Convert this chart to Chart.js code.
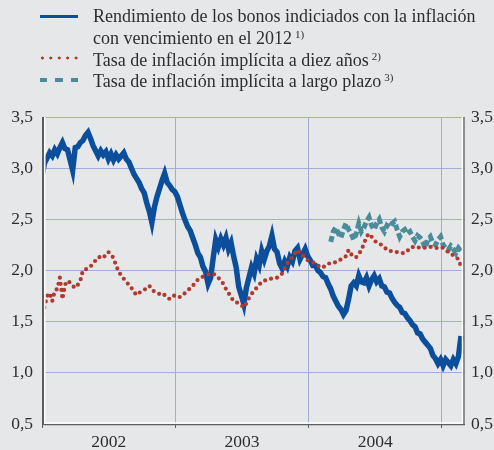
<!DOCTYPE html>
<html>
<head>
<meta charset="utf-8">
<script src="https://cdn.jsdelivr.net/npm/chart.js@4/dist/chart.umd.min.js"></script>
<style>
  html, body { margin:0; padding:0; background:#e6e7e9; }
  body { width:494px; height:450px; position:relative; overflow:hidden; font-family:"Liberation Serif", "DejaVu Serif", serif; color:#2e2e2e; }
  #c { position:absolute; left:0; top:0; }
  .lt { position:absolute; left:93px; height:22px; line-height:22px; font-size:18px; white-space:nowrap; }
  .lt sup { font-size:11px; vertical-align:0; position:relative; top:-6px; margin-left:3px; }
  .sw { position:absolute; left:40px; width:38px; }
</style>
</head>
<body>
<canvas id="c" width="494" height="450"></canvas>
<div class="sw" style="top:14.5px;height:3px;background:#0b4f9c;"></div>
<div class="lt" style="top:5px;">Rendimiento de los bonos indiciados con la inflación</div>
<div class="lt" style="top:27px;">con vencimiento en el 2012<sup>1)</sup></div>
<div class="sw" style="top:56px;height:4px;background:radial-gradient(circle at 2.2px 2px, #b03a2e 1.4px, rgba(0,0,0,0) 1.7px);background-size:8.45px 4px;background-repeat:repeat-x;"></div>
<div class="lt" style="top:49px;">Tasa de inflación implícita a diez años<sup>2)</sup></div>
<div class="sw" style="top:77.5px;height:4px;background:repeating-linear-gradient(to right, #4b8c9b 0 7px, rgba(0,0,0,0) 7px 15.5px);"></div>
<div class="lt" style="top:70px;">Tasa de inflación implícita a largo plazo<sup>3)</sup></div>
<script>
// ---- data (weekly observations, first week starting 2002-01-01) ----
const startYear = 2002;
const weekStep = 7 / 365.25;
const yearLabels = ['2002', '2003', '2004'];
const yTickValues = [0.5, 1.0, 1.5, 2.0, 2.5, 3.0, 3.5];
const yTickLabels = ['0,5', '1,0', '1,5', '2,0', '2,5', '3,0', '3,5'];

const bonoIndiciado2012 = [
  2.92,3.05,3.10,3.15,3.12,3.18,3.14,3.20,3.25,3.19,
  3.18,3.08,2.98,3.20,3.21,3.25,3.27,3.32,3.35,3.29,
  3.22,3.17,3.12,3.17,3.13,3.16,3.09,3.14,3.08,3.13,
  3.09,3.12,3.15,3.09,3.06,3.00,2.94,2.90,2.86,2.80,
  2.76,2.66,2.58,2.47,2.62,2.72,2.80,2.88,2.95,2.86,
  2.83,2.79,2.77,2.72,2.64,2.56,2.49,2.43,2.39,2.32,
  2.25,2.17,2.13,2.04,1.99,1.87,1.93,2.12,2.30,2.23,
  2.31,2.25,2.32,2.21,2.27,2.14,2.03,1.84,1.76,1.67,
  1.83,1.93,2.03,1.97,2.11,2.05,2.19,2.11,2.19,2.24,
  2.34,2.21,2.18,2.07,2.02,2.09,2.04,2.13,2.09,2.19,
  2.22,2.11,2.16,2.21,2.14,2.10,2.05,2.05,2.00,1.98,
  1.94,1.93,1.87,1.82,1.75,1.70,1.65,1.62,1.57,1.61,
  1.72,1.85,1.88,1.85,1.95,1.89,1.88,1.93,1.85,1.91,
  1.95,1.89,1.92,1.85,1.84,1.79,1.78,1.73,1.69,1.66,
  1.64,1.59,1.58,1.54,1.51,1.47,1.45,1.39,1.38,1.33,
  1.30,1.27,1.24,1.17,1.14,1.09,1.13,1.07,1.13,1.10,
  1.07,1.13,1.09,1.16,1.36
];

const inflacionDiezAnos = [
  1.52,1.65,1.75,1.78,1.70,1.80,1.82,1.93,1.72,1.86,
  1.90,1.88,1.85,1.83,1.86,1.90,2.00,2.01,2.02,2.04,
  2.07,2.10,2.13,2.13,2.12,2.16,2.18,2.16,2.12,2.05,
  1.99,1.95,1.92,1.89,1.86,1.83,1.79,1.76,1.78,1.80,
  1.81,1.83,1.85,1.82,1.79,1.78,1.77,1.78,1.76,1.74,
  1.72,1.74,1.76,1.75,1.74,1.76,1.78,1.80,1.83,1.85,
  1.88,1.91,1.93,1.94,1.95,1.96,1.97,1.97,1.95,1.93,
  1.90,1.87,1.82,1.78,1.74,1.70,1.69,1.68,1.66,1.64,
  1.68,1.73,1.77,1.80,1.83,1.86,1.89,1.90,1.91,1.92,
  1.92,1.93,1.93,1.95,1.97,2.02,2.07,2.10,2.13,2.17,
  2.20,2.16,2.15,2.12,2.10,2.09,2.08,2.07,2.05,2.03,
  2.03,2.05,2.06,2.08,2.08,2.08,2.09,2.11,2.12,2.14,
  2.20,2.16,2.13,2.13,2.16,2.20,2.26,2.33,2.36,2.33,
  2.30,2.27,2.26,2.25,2.23,2.20,2.19,2.19,2.18,2.18,
  2.18,2.17,2.17,2.19,2.22,2.23,2.22,2.22,2.23,2.23,
  2.22,2.23,2.23,2.23,2.22,2.22,2.23,2.22,2.20,2.18,
  2.16,2.15,2.13,2.11,2.04
];

// long-term implied inflation starts in week 113 (March 2004)
const largoPlazoStartWeek = 113;
const inflacionLargoPlazo = [
  2.28,2.38,2.42,2.36,2.32,2.40,2.46,2.40,2.36,2.30,
  2.36,2.46,2.38,2.42,2.48,2.52,2.44,2.40,2.46,2.50,
  2.42,2.38,2.44,2.42,2.46,2.48,2.40,2.33,2.38,2.40,
  2.36,2.38,2.33,2.29,2.34,2.32,2.28,2.22,2.30,2.33,
  2.27,2.25,2.30,2.33,2.25,2.22,2.20,2.24,2.21,2.17,
  2.22,2.19
];

const weekToYear = (i) => startYear + i * weekStep;
const toPoints = (arr, offset) => arr.map((v, i) => ({ x: weekToYear(i + offset), y: v }));

const FONT = { family: '"Liberation Serif", "DejaVu Serif", serif', size: 17.5 };
const GRID = '#a3acd7';
const TEXT = '#2e2e2e';

const framePlugin = {
  id: 'frame',
  afterDraw(chart) {
    const { ctx, chartArea: a } = chart;
    ctx.save();
    ctx.strokeStyle = '#ffffff';
    ctx.lineWidth = 1.5;
    ctx.beginPath();
    ctx.moveTo(44.8, a.top); ctx.lineTo(44.8, a.bottom - 1);
    ctx.moveTo(a.left, a.bottom - 1); ctx.lineTo(a.right - 2, a.bottom - 1);
    ctx.moveTo(a.right - 2.5, a.top); ctx.lineTo(a.right - 2.5, a.bottom - 1);
    ctx.stroke();
    ctx.strokeStyle = '#5e5e5e';
    ctx.lineWidth = 2;
    ctx.beginPath();
    ctx.moveTo(a.left + 1, a.top); ctx.lineTo(a.left + 1, a.bottom + 1);
    ctx.stroke();
    ctx.lineWidth = 1.3;
    ctx.beginPath();
    ctx.moveTo(a.left, a.bottom + 0.7); ctx.lineTo(a.right, a.bottom + 0.7);
    ctx.moveTo(a.right - 1, a.top); ctx.lineTo(a.right - 1, a.bottom + 1);
    ctx.stroke();
    ctx.restore();
  }
};

new Chart(document.getElementById('c'), {
  type: 'line',
  data: {
    datasets: [
      {
        label: 'Tasa de inflación implícita a diez años',
        data: toPoints(inflacionDiezAnos, 0),
        borderColor: '#b2392d',
        borderWidth: 4.2,
        borderDash: [0, 6.2],
        borderCapStyle: 'round',
        pointRadius: 0,
        tension: 0,
        order: 0
      },
      {
        label: 'Tasa de inflación implícita a largo plazo',
        data: toPoints(inflacionLargoPlazo, largoPlazoStartWeek),
        borderColor: '#4b8c9b',
        borderWidth: 5,
        borderDash: [6, 3],
        pointRadius: 0,
        tension: 0,
        order: 1
      },
      {
        label: 'Rendimiento de los bonos indiciados con la inflación con vencimiento en el 2012',
        data: toPoints(bonoIndiciado2012, 0),
        borderColor: '#0b4f9c',
        borderWidth: 5.5,
        borderJoinStyle: 'miter',
        pointRadius: 0,
        tension: 0,
        order: 2
      }
    ]
  },
  options: {
    responsive: false,
    devicePixelRatio: 1,
    animation: false,
    layout: { padding: { top: 117, left: 0, right: 0, bottom: 0 } },
    plugins: { legend: { display: false }, tooltip: { enabled: false } },
    scales: {
      x: {
        type: 'linear',
        min: startYear,
        max: 2005.173,
        afterFit(s) { s.height = 26; },
        afterBuildTicks(s) {
          s.ticks = [];
          yearLabels.forEach((lab, k) => {
            s.ticks.push({ value: startYear + k });
            s.ticks.push({ value: startYear + k + 0.5 });
          });
          s.ticks.push({ value: startYear + yearLabels.length });
        },
        border: { display: false },
        grid: {
          color: (c) => (c.tick && Number.isInteger(c.tick.value)) ? GRID : 'rgba(0,0,0,0)',
          tickColor: (c) => (c.tick && Number.isInteger(c.tick.value)) ? '#5e5e5e' : 'rgba(0,0,0,0)',
          tickLength: 4,
          lineWidth: 1
        },
        ticks: {
          autoSkip: false,
          maxRotation: 0,
          padding: 4,
          color: TEXT,
          font: FONT,
          callback: (v) => {
            if (Number.isInteger(v)) return '';
            return yearLabels[Math.floor(v) - startYear] || '';
          }
        }
      },
      y: {
        position: 'left',
        min: 0.5,
        max: 3.5,
        afterFit(s) { s.width = 42; },
        afterBuildTicks(s) { s.ticks = yTickValues.map(v => ({ value: v })); },
        border: { display: false },
        grid: { color: GRID, lineWidth: 1, drawTicks: false },
        ticks: {
          padding: 9,
          color: TEXT,
          font: FONT,
          callback: (v) => yTickLabels[yTickValues.indexOf(v)]
        }
      },
      y2: {
        position: 'right',
        min: 0.5,
        max: 3.5,
        afterFit(s) { s.width = 29; },
        afterBuildTicks(s) { s.ticks = yTickValues.map(v => ({ value: v })); },
        border: { display: false },
        grid: { display: false, drawTicks: false },
        ticks: {
          padding: 6,
          color: TEXT,
          font: FONT,
          callback: (v) => yTickLabels[yTickValues.indexOf(v)]
        }
      }
    }
  },
  plugins: [framePlugin]
});
</script>
</body>
</html>
